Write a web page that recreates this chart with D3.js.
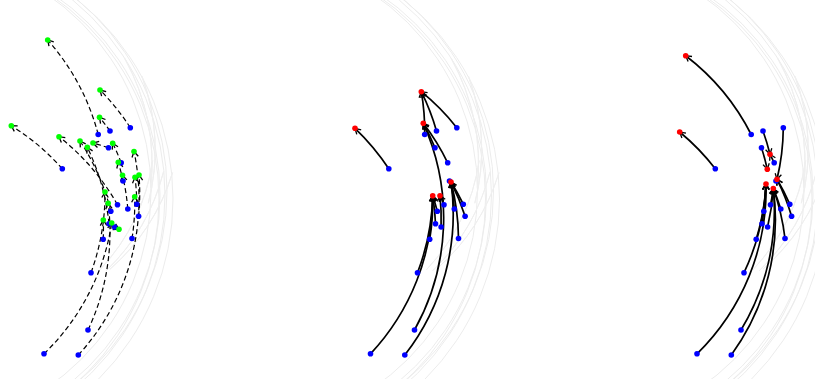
<!DOCTYPE html>
<html><head><meta charset="utf-8">
<script src="https://cdn.jsdelivr.net/npm/d3@7"></script>
<style>html,body{margin:0;padding:0;background:#fff;}svg{display:block;}</style>
</head><body>
<svg id="chart" width="815" height="379"></svg>
<script>
// ---- data (panel coordinates) ----
const blueX = [130.3,110,98.2,108.5,121.2,62.3,123,117.5,110.8,136.8,127.8,138.6,109,114.6,103.2,132,91,88,44,78.3];
const blueY = [127.7,131,134.5,147.8,162.8,168.8,181,204.8,211.2,204.2,209,216.2,223.7,227,239.2,238.5,272.7,330,353.8,355];

const greenX = [47.7,100,99.5,11.3,59,80,87.3,93,112.7,134,118.3,122.5,135,139,105,134.7,108.2,103.3,111.7,119];
const greenY = [40,90,117.3,125.7,136.7,141,147.3,143,143.3,151.5,162.3,175.3,177.3,175,192,196.7,203.3,220,223,229.2];
const greenTarget = [2,3,1,8,9,4,11,5,6,13,12,14,7,20,18,16,15,17,19,10];

const red2X = [28.5,94.8,96.8,124.5,106.2,113.5];
const red2Y = [128.3,91.7,123.3,182,195.7,195.7];
const red2Target = [2,2,2,3,3,1,4,6,5,4,4,4,5,6,5,4,5,3,5,4];

const red3X = [32.7,26.7,117,114.3,124,113,120.3];
const red3Y = [55.7,132,154.3,169.3,179.3,184,188.5];
const red3Target = [5,3,1,4,3,2,5,7,6,5,7,5,6,7,6,7,6,7,6,7];

const panelOffsets = [0,326.5,653];
const contourRadii = [238,242,246,249,252,255];

// ---- drawing ----
const svg = d3.select("#chart");
const defs = svg.append("defs");
defs.append("marker").attr("id","arr")
  .attr("viewBox","-8 -5 10 10").attr("refX",0).attr("refY",0)
  .attr("markerWidth",10).attr("markerHeight",10)
  .attr("markerUnits","userSpaceOnUse").attr("orient","auto")
  .append("path").attr("d","M-5.5,-3.2 L0,0 L-5.5,3.2")
  .attr("fill","none").attr("stroke","#000").attr("stroke-width",1.3);

const C = [-85,195];
const R = 230;
function arcPath(x1,y1,x2,y2,cx,cy){
  const dx=x2-x1, dy=y2-y1;
  const cr = dx*(cy-y1) - dy*(cx-x1);
  const sweep = cr>0?1:0;
  return `M${x1},${y1} A${R},${R} 0 0 ${sweep} ${x2},${y2}`;
}

const targets = [
  {x:greenX,y:greenY,t:greenTarget,color:"#00ff00",dash:"5,3",w:1.2},
  {x:red2X,y:red2Y,t:red2Target,color:"#ff0000",dash:null,w:1.7},
  {x:red3X,y:red3Y,t:red3Target,color:"#ff0000",dash:null,w:1.7}
];

panelOffsets.forEach((off,pi)=>{
  const sx = d3.scaleLinear().domain([0,326.5]).range([off,off+326.5]);
  const sy = d3.scaleLinear().domain([0,379]).range([0,379]);
  defs.append("clipPath").attr("id","clip"+pi).append("rect")
    .attr("x",sx(0)).attr("y",0).attr("width",326.5).attr("height",379);
  const g = svg.append("g");
  const bg = g.append("g").attr("clip-path",`url(#clip${pi})`);
  // faint background contours
  bg.selectAll("circle").data(contourRadii).enter().append("circle")
    .attr("cx",(d,i)=>sx(C[0]+ (i%2?3:-2))).attr("cy",(d,i)=>sy(C[1]+(i%3-1)*4)).attr("r",d=>d)
    .attr("fill","none").attr("stroke","#ececec").attr("stroke-width",1);
  const inner = [[-60,150,215,-0.35,0.25],[-70,165,222,-0.5,0.1],[-50,130,205,0.15,0.75],[-40,120,210,0.25,0.8],[-30,110,212,0.3,0.85]];
  inner.forEach(a=>{
    const arc = d3.arc().innerRadius(a[2]).outerRadius(a[2]).startAngle(Math.PI/2+a[3]).endAngle(Math.PI/2+a[4]);
    bg.append("path").attr("d",arc()).attr("transform",`translate(${sx(a[0])},${sy(a[1])})`)
      .attr("fill","none").attr("stroke","#efefef").attr("stroke-width",1);
  });
  const T = targets[pi];
  const links = blueX.map((bx,i)=>({x1:bx,y1:blueY[i],x2:T.x[T.t[i]-1],y2:T.y[T.t[i]-1]}));
  g.selectAll("path.link").data(links).enter().append("path").attr("class","link")
    .attr("d",d=>arcPath(sx(d.x1),sy(d.y1),sx(d.x2),sy(d.y2),sx(C[0]),sy(C[1])))
    .attr("fill","none").attr("stroke","#000").attr("stroke-width",T.w)
    .attr("stroke-dasharray",T.dash)
    .attr("marker-end",d=>(Math.hypot(d.x2-d.x1,d.y2-d.y1)>4?"url(#arr)":null));
  g.selectAll("circle.blue").data(blueX).enter().append("circle").attr("class","blue")
    .attr("cx",d=>sx(d)).attr("cy",(d,i)=>sy(blueY[i])).attr("r",2.8).attr("fill","#0000ff");
  g.selectAll("circle.tg").data(T.x).enter().append("circle").attr("class","tg")
    .attr("cx",d=>sx(d)).attr("cy",(d,i)=>sy(T.y[i])).attr("r",2.8).attr("fill",T.color);
});
</script>
</body></html>
